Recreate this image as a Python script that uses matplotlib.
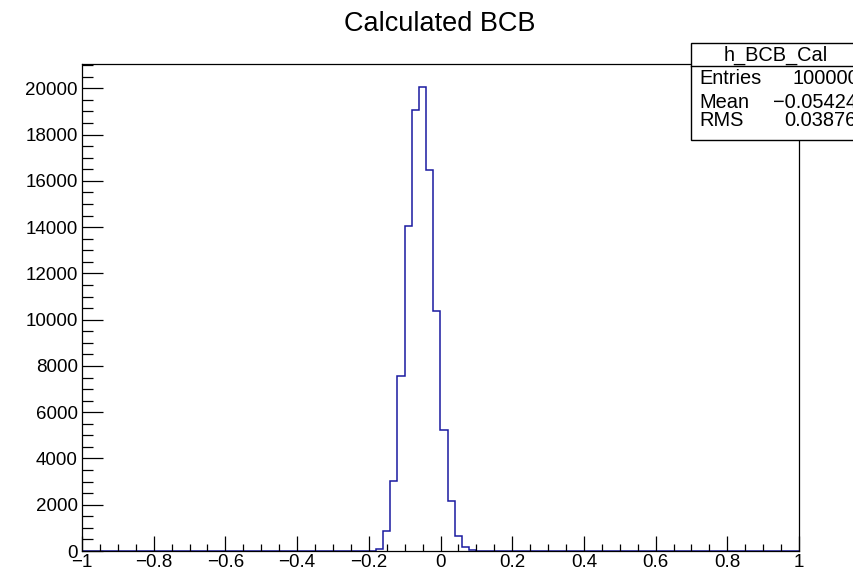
import numpy as np
import matplotlib.pyplot as plt
from matplotlib.ticker import MultipleLocator, FuncFormatter
from matplotlib.patches import Rectangle
from matplotlib.lines import Line2D

# histogram h_BCB_Cal: 100 bins from -1 to 1
n_bins = 100
x_min, x_max = -1.0, 1.0
# first non-empty bin starts at -0.18, counts
first_edge = -0.18
counts_nonzero = [100, 860, 3030, 7580, 14040, 19050, 20050, 16480,
                  10390, 5220, 2170, 660, 190, 50, 10]

title = "Calculated BCB"
stats_name = "h_BCB_Cal"
stats_labels = ["Entries", "Mean", "RMS"]
stats_values = ["100000", "\u22120.05424", "0.03876"]

edges = np.linspace(x_min, x_max, n_bins + 1)
counts = np.zeros(n_bins)
start = int(round((first_edge - x_min) / (x_max - x_min) * n_bins))
counts[start:start + len(counts_nonzero)] = counts_nonzero

plt.rcParams["font.family"] = ["Liberation Sans", "DejaVu Sans"]

W, H = 854, 572
fig = plt.figure(figsize=(W / 100, H / 100), dpi=100)
L, R, T, B = 82, 799, 64, 551
ax = fig.add_axes([L / W, 1 - B / H, (R - L) / W, (B - T) / H])

ax.stairs(counts, edges, color="#1a1aa0", linewidth=1.1, baseline=0)

ax.set_xlim(x_min, x_max)
ax.set_ylim(0, 1.05 * max(counts_nonzero))

ax.xaxis.set_major_locator(MultipleLocator(0.2))
ax.xaxis.set_minor_locator(MultipleLocator(0.05))
ax.yaxis.set_major_locator(MultipleLocator(2000))
ax.yaxis.set_minor_locator(MultipleLocator(500))


def fmt_x(v, pos):
    if abs(v) < 1e-9:
        return "0"
    s = ("%.1f" % v).rstrip("0").rstrip(".")
    return s.replace("-", "\u2212")


ax.xaxis.set_major_formatter(FuncFormatter(fmt_x))
ax.yaxis.set_major_formatter(FuncFormatter(lambda v, p: "%d" % v))

ax.tick_params(axis="x", which="major", direction="in", length=10.5,
               width=0.9, labelsize=13.5, pad=2, top=False)
ax.tick_params(axis="x", which="minor", direction="in", length=5.2,
               width=0.9, top=False)
ax.tick_params(axis="y", which="major", direction="in", length=15.2,
               width=0.9, labelsize=13.5, pad=3, right=False)
ax.tick_params(axis="y", which="minor", direction="in", length=7.6,
               width=0.9, right=False)
for s in ax.spines.values():
    s.set_linewidth(0.9)

fig.text(440 / W, 1 - 24 / H, title, ha="center", va="center", fontsize=19.5)

# stats box (partly outside the figure, as in the original)
bx0, by0, by1, sep = 691, 43, 140, 66
fig.patches.append(Rectangle((bx0 / W, 1 - by1 / H), 200 / W, (by1 - by0) / H,
                             transform=fig.transFigure, facecolor="white",
                             edgecolor="black", linewidth=1.0, zorder=5))
fig.lines.append(Line2D([bx0 / W, 1.0], [1 - sep / H, 1 - sep / H],
                        transform=fig.transFigure, color="black",
                        linewidth=1.0, zorder=6))
fig.text(776 / W, 1 - 55 / H, stats_name, ha="center", va="center",
         fontsize=14.4, zorder=7)
row_y = [79, 103, 121]
value_x = [793, 773, 784]
for lab, val, y, vx in zip(stats_labels, stats_values, row_y, value_x):
    fig.text(699 / W, 1 - y / H, lab, ha="left", va="center",
             fontsize=14.4, zorder=7)
    fig.text(vx / W, 1 - y / H, val, ha="left", va="center",
             fontsize=14.4, zorder=7)

fig.savefig("out.png", dpi=100)
